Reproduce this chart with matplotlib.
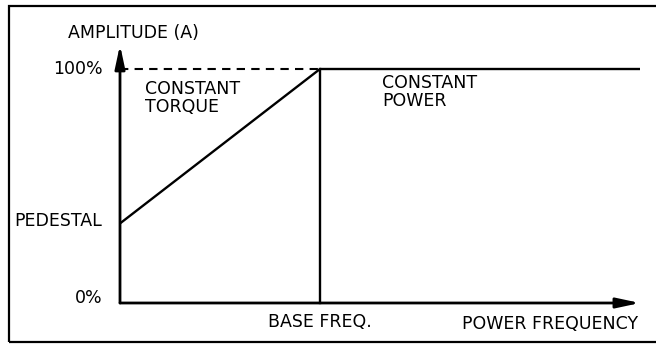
import matplotlib
matplotlib.use("Agg")
import matplotlib.pyplot as plt
from matplotlib.patches import Rectangle

# frequency in units of base frequency, amplitude in %
freq = [0.0, 1.0, 2.6]
amplitude = [34, 100, 100]
base_freq = 1.0
freq_max = 2.6
amp_axis_top = 110.3

region_labels = ["CONSTANT\nTORQUE", "CONSTANT\nPOWER"]
level_labels = ["100%", "PEDESTAL", "0%"]
level_values = [100, 34, 0]

plt.rcParams['font.family'] = ['DejaVu Sans']
fs = 12.5

fig = plt.figure(figsize=(6.56, 3.45), dpi=100)
ax = fig.add_axes([0, 0, 1, 1])
ax.set_xlim(-0.6, 2.68)
ax.set_ylim(-17.95, 129.49)
ax.axis("off")

# frame round the drawing, open on the right
ax.add_patch(Rectangle((9 / 656, 3 / 345), 1.2, 336 / 345, transform=ax.transAxes,
                       fill=False, lw=1.6, ec="black", clip_on=False))

# axes with arrows
arrow = dict(arrowstyle="-|>,head_length=1.4,head_width=0.3", lw=2.0, color="black",
             shrinkA=0, shrinkB=0, mutation_scale=10)
ax.annotate("", xy=(0, amp_axis_top), xytext=(0, 0), arrowprops=arrow)
ax.annotate("", xy=(freq_max, 0), xytext=(0, 0), arrowprops=arrow)

# curve
ax.plot(freq, amplitude, color="black", lw=1.7, solid_capstyle="butt")
ax.plot([base_freq, base_freq], [0, 100], color="black", lw=1.7)
ax.plot([0, base_freq], [100, 100], color="black", lw=1.5, dashes=(4, 3))

# texts
ax.text(-0.26, 115.2, "AMPLITUDE (A)", fontsize=fs, ha="left", va="center")
ax.text(-0.085, level_values[0], level_labels[0], fontsize=fs, ha="right", va="center")
ax.text(-0.09, 35, level_labels[1], fontsize=fs, ha="right", va="center")
ax.text(-0.085, 2.1, level_labels[2], fontsize=fs, ha="right", va="center")
ax.text(0.125, 95.3, region_labels[0], fontsize=fs, ha="left", va="top", linespacing=1.0)
ax.text(1.31, 97.9, region_labels[1], fontsize=fs, ha="left", va="top", linespacing=1.0)
ax.text(base_freq, -8.3, "BASE FREQ.", fontsize=fs, ha="center", va="center")
ax.text(2.59, -9.0, "POWER FREQUENCY", fontsize=fs, ha="right", va="center")

fig.savefig("out.png", dpi=100)
